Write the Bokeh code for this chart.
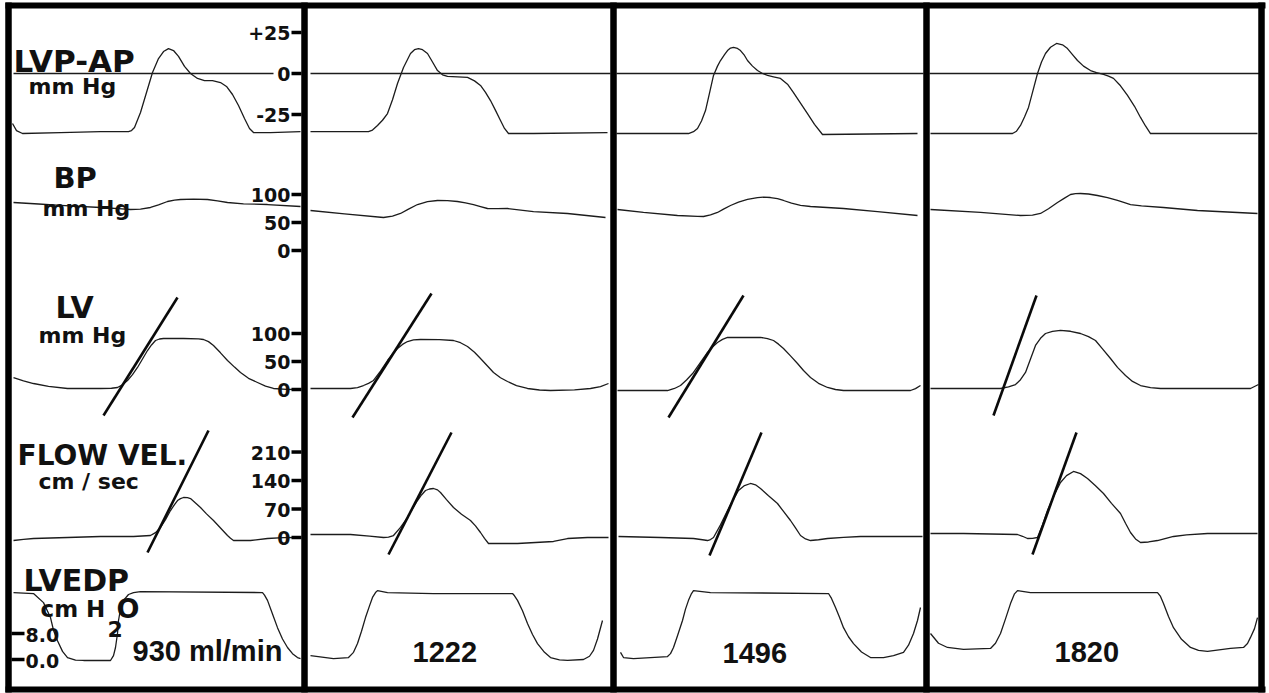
from bokeh.plotting import figure
from bokeh.models import Range1d
from bokeh.core.properties import value
from bokeh.embed import file_html
from bokeh.resources import INLINE

# ---------------- data (read from the recording) ----------------
# one list of (time, value) samples per panel; time = px from the panel's left border
FLOW_RATES = ["930 ml/min", "1222", "1496", "1820"]

# LVP-AP, mm Hg
LVPAP = [
    [(4, -30.5), (8, -34.8), (14, -36.6), (52, -36.0), (92, -35.4), (120, -35.4), (123, -34.8), (126, -32.9),
     (132, -23.8), (138, -11.6), (144, 0.6), (150, 9.1), (155, 13.4), (160, 15.2), (165, 14.0), (170, 10.4),
     (176, 4.3), (182, 0.0), (189, -3.0), (196, -4.3), (204, -4.3), (212, -5.5), (218, -7.9), (224, -12.8),
     (230, -19.5), (236, -27.4), (241, -33.5), (245, -36.0), (262, -36.0), (292, -35.4)],
    [(6, -35.4), (64, -35.4), (68, -34.5), (73, -31.7), (78, -28.5), (83, -24.4), (88, -16.0), (93, -6.1),
     (99, 3.7), (106, 12.2), (110, 14.5), (114, 15.2), (118, 14.5), (123, 12.2), (128, 7.0), (133, 1.8),
     (138, -0.8), (143, -1.8), (153, -2.0), (163, -2.4), (170, -4.5), (176, -7.3), (181, -11.5), (186, -16.5),
     (191, -22.5), (196, -28.7), (200, -33.5), (204, -36.6), (229, -36.6), (303, -36.0)],
    [(3, -36.6), (75, -36.6), (80, -35.5), (84, -33.5), (88, -29.0), (92, -22.6), (96, -12.0), (100, -1.2),
     (104, 4.5), (107, 7.9), (111, 11.5), (114, 14.0), (117, 15.5), (120, 15.9), (124, 15.3), (127, 14.0),
     (131, 11.0), (134, 7.9), (139, 4.5), (144, 1.8), (149, 0.0), (154, -1.2), (160, -2.0), (167, -3.0),
     (174, -6.5), (180, -11.6), (187, -18.0), (194, -24.4), (201, -31.0), (209, -37.2), (304, -36.6)],
    [(4, -36.6), (86, -36.6), (90, -35.2), (94, -31.7), (98, -26.5), (102, -20.7), (106, -11.5), (111, 0.0),
     (115, 7.0), (119, 12.2), (124, 16.0), (130, 18.3), (136, 17.5), (141, 15.2), (146, 11.5), (151, 7.9),
     (157, 4.5), (164, 1.8), (170, 0.6), (177, -0.6), (182, -1.6), (187, -3.0), (194, -7.5), (201, -13.4),
     (208, -20.0), (214, -26.8), (219, -32.0), (224, -36.6), (331, -36.6)],
]

# BP, mm Hg
BP = [
    [(5, 85.7), (30, 83.0), (52, 80.4), (92, 76.8), (110, 74.8), (122, 73.2), (132, 74.0), (142, 76.8),
     (150, 81.5), (159, 87.5), (166, 89.8), (172, 91.1), (185, 91.6), (199, 91.1), (209, 88.8), (219, 85.7),
     (235, 83.4), (259, 82.1), (292, 78.6)],
    [(6, 71.4), (40, 65.5), (79, 58.9), (88, 61.5), (96, 66.1), (104, 74.0), (113, 82.1), (123, 87.3),
     (133, 89.3), (143, 89.0), (153, 87.5), (161, 85.0), (169, 82.1), (176, 78.5), (183, 75.0), (193, 74.6),
     (203, 75.0), (229, 69.6), (263, 66.1), (301, 58.9)],
    [(4, 73.2), (30, 67.9), (64, 62.5), (84, 60.8), (90, 60.7), (97, 63.5), (104, 67.9), (110, 73.8),
     (117, 80.4), (125, 86.5), (134, 91.1), (144, 94.6), (150, 95.2), (157, 94.6), (164, 92.5), (170, 89.3),
     (178, 84.5), (187, 80.4), (197, 78.6), (230, 75.0), (264, 69.6), (304, 62.5)],
    [(4, 73.2), (54, 67.9), (94, 62.5), (106, 63.2), (114, 66.1), (122, 74.5), (131, 85.7), (138, 93.5),
     (144, 100.0), (149, 101.4), (154, 101.8), (162, 100.9), (171, 98.2), (181, 94.5), (191, 89.3),
     (198, 85.5), (204, 82.1), (215, 79.8), (237, 76.8), (271, 71.4), (331, 66.1)],
]

# LV, mm Hg
LV = [
    [(5, 21.4), (15, 15.5), (25, 10.7), (40, 5.5), (59, 1.8), (92, 1.8), (103, 2.2), (109, 3.6), (114, 8.5),
     (119, 16.1), (124, 26.5), (129, 39.3), (134, 54.5), (139, 69.6), (143, 79.5), (147, 87.5), (151, 90.2),
     (155, 91.1), (175, 91.1), (190, 90.5), (195, 89.3), (200, 85.5), (205, 78.6), (212, 65.5), (219, 51.8),
     (226, 40.0), (232, 30.4), (240, 20.0), (249, 12.5), (257, 6.0), (265, 1.8), (278, 0.4), (292, 0.0)],
    [(6, 1.8), (46, 1.8), (53, 3.5), (59, 7.1), (64, 11.0), (69, 16.1), (76, 33.0), (83, 51.8), (88, 63.5),
     (93, 73.2), (98, 80.5), (103, 85.7), (109, 88.5), (116, 89.3), (135, 89.1), (149, 87.5), (156, 83.5),
     (163, 76.8), (170, 66.5), (176, 55.4), (183, 42.0), (189, 30.4), (196, 21.0), (203, 14.3), (212, 7.0),
     (223, 1.8), (235, -0.9), (246, -1.8), (270, -0.5), (286, 1.8), (296, 5.0), (304, 10.7)],
    [(4, -1.8), (54, -1.8), (61, 1.8), (67, 7.1), (73, 17.0), (80, 30.4), (87, 48.5), (94, 66.1), (99, 76.0),
     (104, 83.9), (109, 89.5), (114, 92.9), (147, 92.9), (154, 91.0), (160, 87.5), (165, 81.0), (170, 73.2),
     (177, 60.0), (184, 46.4), (190, 34.0), (197, 21.4), (205, 11.0), (214, 3.6), (222, 0.0), (230, -1.8),
     (297, -1.8), (302, 1.5), (307, 7.1)],
    [(4, 1.8), (74, 1.8), (82, 4.5), (89, 8.9), (94, 17.5), (99, 30.4), (104, 54.5), (109, 78.6), (114, 91.5),
     (119, 100.0), (126, 103.8), (134, 105.4), (144, 104.0), (154, 100.0), (162, 94.5), (169, 87.5),
     (176, 72.5), (184, 55.4), (191, 39.5), (199, 25.0), (206, 14.5), (214, 7.1), (224, 3.3), (234, 1.8),
     (324, 1.8), (332, 8.9)],
]
# tangent lines drawn on the LV trace: (t0, v0, t1, v1)
LV_TANGENTS = [(95, -46.4, 169, 164.3), (48, -50.0, 127, 171.4), (55, -50.0, 130, 167.9), (67, -46.4, 110, 167.9)]

# FLOW VEL., cm/sec
FLOW = [
    [(5, -7.4), (15, -4.5), (25, -2.5), (59, 0.0), (92, 2.5), (125, 2.5), (142, 4.9), (147, 12.0), (152, 24.6),
     (157, 44.0), (162, 66.3), (166, 80.5), (169, 90.9), (172, 95.5), (175, 98.3), (179, 97.8), (182, 95.8),
     (187, 85.0), (192, 73.7), (198, 58.0), (205, 41.8), (212, 23.5), (219, 4.9), (222, -2.0), (225, -7.4),
     (242, -7.4), (259, -2.5), (275, -0.5), (292, 0.0)],
    [(6, 7.4), (46, 7.4), (65, 3.5), (79, 0.0), (84, 1.0), (89, 4.9), (96, 25.0), (103, 49.1), (108, 71.0),
     (113, 90.9), (117, 104.5), (121, 115.5), (125, 119.2), (129, 120.4), (133, 117.0), (136, 110.6),
     (142, 93.0), (149, 73.7), (157, 57.0), (166, 41.8), (171, 28.5), (176, 12.3), (180, -2.0), (184, -14.7),
     (213, -14.7), (249, -9.8), (263, -2.5), (283, 0.0), (304, 0.0)],
    [(5, 2.5), (47, 0.0), (80, -2.5), (89, -5.5), (94, -7.4), (97, -5.0), (100, 0.0), (107, 31.0), (114, 66.3),
     (119, 90.0), (125, 115.5), (131, 127.5), (137, 132.7), (142, 129.5), (147, 120.4), (155, 102.5),
     (164, 83.5), (170, 64.0), (177, 41.8), (182, 23.5), (187, 4.9), (192, -3.5), (197, -7.4), (205, -5.5),
     (214, -2.5), (230, 0.5), (247, 2.5), (309, 2.5)],
    [(4, 9.8), (37, 9.8), (91, 7.4), (96, 3.0), (101, -2.5), (106, -2.0), (111, 0.0), (116, 31.0), (121, 66.3),
     (127, 101.0), (134, 135.1), (140, 152.0), (147, 162.2), (154, 157.0), (161, 145.0), (169, 127.0),
     (177, 108.1), (185, 84.0), (194, 59.0), (199, 35.0), (204, 12.3), (209, -3.5), (214, -12.3), (222, -11.0),
     (231, -7.4), (247, 2.5), (260, 6.5), (281, 9.8), (331, 9.8)],
]
FLOW_TANGENTS = [(139, -36.9, 200, 262.9), (84, -41.8, 147, 258.0), (96, -44.2, 148, 258.0), (106, -41.8, 150, 258.0)]

# LVEDP, cm H2O
LVEDP = [
    [(5, 20.6), (25, 20.3), (35, 17.5), (42, 12.9), (45, 9.0), (49, 5.8), (54, 2.5), (59, 0.6), (67, -0.2),
     (75, -0.3), (102, -0.3), (105, 1.2), (107, 3.7), (109, 8.0), (110, 12.0), (112, 15.5), (115, 18.2),
     (120, 20.0), (125, 20.6), (132, 20.9), (254, 20.6), (256, 19.8), (259, 18.2), (264, 14.0), (269, 9.8),
     (274, 6.3), (279, 3.7), (284, 1.8), (289, 0.6), (292, 0.3)],
    [(6, 1.2), (29, 0.3), (44, 0.6), (49, 2.2), (53, 4.9), (57, 8.7), (61, 12.9), (65, 16.5), (68, 19.1),
     (71, 20.6), (73, 21.2), (83, 20.6), (129, 20.3), (208, 20.3), (210, 19.6), (213, 18.2), (218, 15.0),
     (223, 11.1), (228, 7.7), (233, 4.9), (240, 2.2), (246, 0.6), (255, -0.1), (263, -0.3), (279, 0.0),
     (285, 1.0), (289, 2.8), (293, 6.3), (298, 12.0)],
    [(7, 2.2), (10, 0.6), (20, 0.3), (54, 0.9), (57, 1.8), (60, 3.7), (64, 7.3), (69, 12.0), (72, 15.5),
     (75, 18.2), (78, 20.3), (80, 21.2), (97, 20.6), (215, 20.3), (218, 18.8), (222, 16.0), (226, 13.0),
     (230, 9.8), (235, 7.0), (240, 4.9), (248, 2.3), (257, 0.6), (270, 0.6), (280, 1.2), (290, 2.2),
     (295, 4.4), (300, 8.0), (304, 12.0), (307, 16.0)],
    [(4, 8.0), (12, 5.0), (21, 3.7), (37, 3.1), (64, 3.4), (69, 5.0), (74, 8.0), (79, 12.5), (84, 17.2),
     (88, 20.2), (91, 21.2), (104, 20.6), (231, 20.6), (234, 19.4), (237, 17.2), (242, 13.2), (247, 9.8),
     (255, 6.2), (264, 3.7), (272, 2.8), (281, 2.5), (304, 3.4), (317, 3.7), (321, 4.9), (324, 6.8),
     (328, 9.5), (331, 12.9)],
]

# axis ticks
LVPAP_TICKS, LVPAP_TICK_LABELS = [25, 0, -25], ["+25", "0", "-25"]
BP_TICKS, BP_TICK_LABELS = [100, 50, 0], ["100", "50", "0"]
LV_TICKS, LV_TICK_LABELS = [100, 50, 0], ["100", "50", "0"]
FLOW_TICKS, FLOW_TICK_LABELS = [210, 140, 70, 0], ["210", "140", "70", "0"]
LVEDP_TICKS, LVEDP_TICK_LABELS = [8.0, 0.0], ["8.0", "0.0"]

# ---------------- layout ----------------
W, H = 1269, 693
PANEL_X0 = [8, 304, 613, 926]         # left border of each panel
RIGHT_EDGE = 1261
TOP_Y, BOTTOM_Y = 5, 689
# channel calibration: (pixel row of zero, pixels per unit)
CAL = {
    "lvpap": (73, 1.64),
    "bp": (250, 0.56),
    "lv": (389, 0.56),
    "flow": (537, 0.407),
    "lvedp": (659, 3.25),
}
ZERO_SPAN = [(5, 265), (6, 306), (3, 310), (3, 333)]

INK = "#1c1c1c"

p = figure(width=W, height=H, x_range=Range1d(0, W), y_range=Range1d(H, 0),
           x_axis_location=None, y_axis_location=None, toolbar_location=None,
           output_backend="svg", min_border=0, outline_line_color=None,
           background_fill_color="white", border_fill_color="white")
p.grid.visible = False

for k, x0 in enumerate(PANEL_X0):
    p.extra_x_ranges[f"panel{k}"] = Range1d(-x0, W - x0)
for ch, (y0, s) in CAL.items():
    p.extra_y_ranges[ch] = Range1d((y0 - H) / s, y0 / s)

channels = [("lvpap", LVPAP), ("bp", BP), ("lv", LV), ("flow", FLOW), ("lvedp", LVEDP)]

for k in range(4):
    xr = f"panel{k}"
    for ch, series in channels:
        t = [a for a, _ in series[k]]
        v = [b for _, b in series[k]]
        p.line(t, v, x_range_name=xr, y_range_name=ch, line_color=INK, line_width=1.3,
               line_join="round")
    z0, z1 = ZERO_SPAN[k]
    p.segment(x0=[z0], x1=[z1], y0=[0], y1=[0], x_range_name=xr,
              y_range_name="lvpap", line_color=INK, line_width=1.6)
    for ch, tans in (("lv", LV_TANGENTS), ("flow", FLOW_TANGENTS)):
        t0, v0, t1, v1 = tans[k]
        p.segment(x0=[t0], y0=[v0], x1=[t1], y1=[v1], x_range_name=xr, y_range_name=ch,
                  line_color="#0a0a0a", line_width=2.6)

# panel borders
vx = PANEL_X0 + [RIGHT_EDGE]
p.segment(x0=vx, x1=vx, y0=[2] * len(vx), y1=[692] * len(vx), line_color="black", line_width=6.5)
p.segment(x0=[5, 5], x1=[1265, 1265], y0=[TOP_Y, BOTTOM_Y], y1=[TOP_Y, BOTTOM_Y],
          line_color="black", line_width=6)

# tick marks and tick labels
tick_sets = [("lvpap", LVPAP_TICKS, LVPAP_TICK_LABELS), ("bp", BP_TICKS, BP_TICK_LABELS),
             ("lv", LV_TICKS, LV_TICK_LABELS), ("flow", FLOW_TICKS, FLOW_TICK_LABELS)]
for ch, ticks, labels in tick_sets:
    n = len(ticks)
    p.segment(x0=[291] * n, x1=[301] * n, y0=ticks, y1=ticks, y_range_name=ch,
              line_color="black", line_width=3.5)
    p.text(x=[290] * n, y=ticks, text=labels, y_range_name=ch, text_align="right",
           text_baseline="alphabetic", y_offset=0.5, text_font=value("DejaVu Sans"),
           text_font_style="bold", text_font_size="19px", text_color="#111111")

n = len(LVEDP_TICKS)
p.segment(x0=[11] * n, x1=[24] * n, y0=LVEDP_TICKS, y1=LVEDP_TICKS, y_range_name="lvedp",
          line_color="black", line_width=3.5)
p.text(x=[25] * n, y=LVEDP_TICKS, text=LVEDP_TICK_LABELS, y_range_name="lvedp",
       text_align="left", text_baseline="alphabetic", y_offset=1.5, text_font=value("DejaVu Sans"),
       text_font_style="bold", text_font_size="19px", text_color="#111111")

# channel titles (text, left x, baseline y, font, size)
TITLES = [
    ("LVP-AP", 13, 60, "DejaVu Sans", "31px"),
    ("mm Hg", 28, 86, "DejaVu Sans", "22px"),
    ("BP", 53, 177, "DejaVu Sans", "29px"),
    ("mm Hg", 42, 208, "DejaVu Sans", "22px"),
    ("LV", 55, 307, "DejaVu Sans", "30px"),
    ("mm Hg", 38, 335, "DejaVu Sans", "22px"),
    ("FLOW VEL.", 17, 455, "DejaVu Sans", "28px"),
    ("cm / sec", 38, 481, "DejaVu Sans", "22px"),
    ("LVEDP", 23, 580, "DejaVu Sans", "30px"),
    ("cm H", 40, 608, "DejaVu Sans", "23px"),
    ("O", 116, 608, "DejaVu Sans", "27px"),
    ("2", 107, 628, "DejaVu Sans", "22px"),
]
for txt, tx, ty, font, size in TITLES:
    p.text(x=[tx], y=[ty], text=[txt], text_align="left", text_baseline="alphabetic",
           text_font=value(font), text_font_style="bold", text_font_size=size,
           text_color="#111111")

RATE_X = [132, 412, 722, 1054]
p.text(x=RATE_X, y=[650, 651, 652, 651], text=FLOW_RATES, text_align="left",
       text_baseline="alphabetic", text_font=value("Liberation Sans"), text_font_style="bold",
       text_font_size="29px", text_color="#111111")

open("out.html", "w").write(file_html(p, INLINE))
